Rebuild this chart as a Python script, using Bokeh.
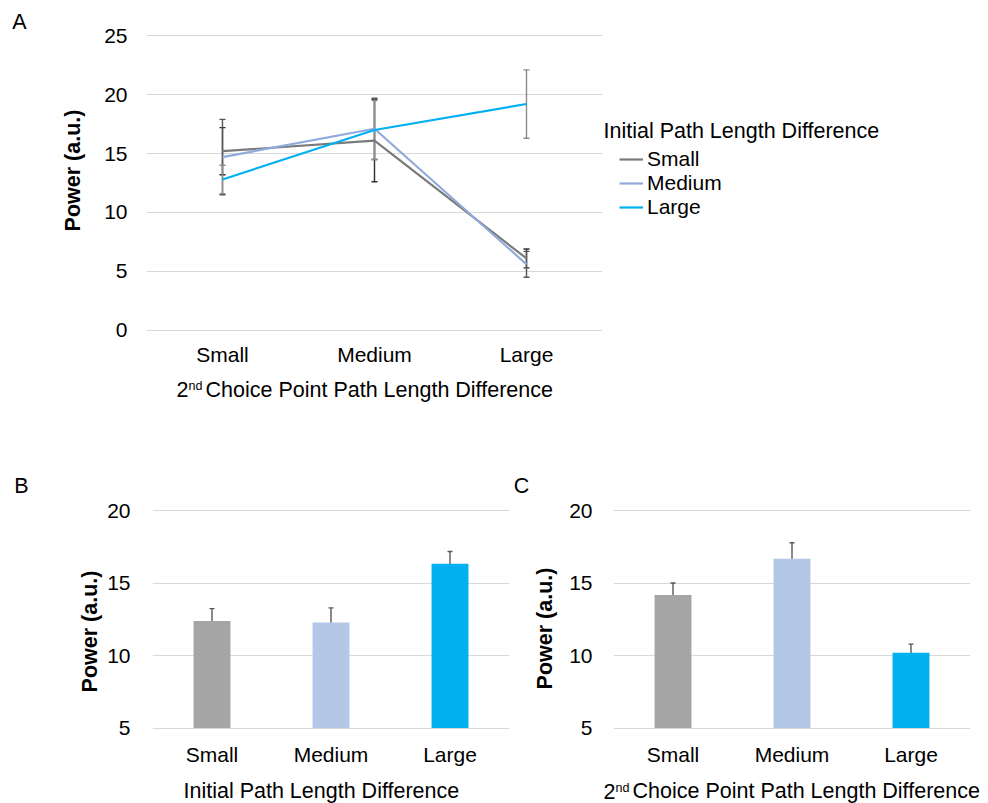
import math
from bokeh.plotting import figure
from bokeh.models import (ColumnDataSource, Whisker, TeeHead, FixedTicker, Label,
                          Legend, LegendItem, FactorRange, Range1d)
from bokeh.layouts import column, row
from bokeh.embed import file_html
from bokeh.resources import INLINE

FONT = "Liberation Sans"
TICK_FS = "21px"
TITLE_FS = "21.5px"

# ---------------- data ----------------
categories = ["Small", "Medium", "Large"]
series_names = ["Small", "Medium", "Large"]
# panel A: power by 2nd choice point difference, one line per initial difference
a_small = [15.2, 16.1, 6.1]
a_small_err = [2.0, 3.5, 0.8]
a_medium = [14.7, 17.1, 5.6]
a_medium_err = [3.2, 2.6, 1.1]
a_large = [12.8, 17.0, 19.2]
a_large_err = [1.2, 2.5, 2.9]
a_ticks = [0, 5, 10, 15, 20, 25]
# panel B: initial path length difference
b_vals = [12.4, 12.3, 16.35]
b_err = [0.85, 1.0, 0.85]
# panel C: 2nd choice point path length difference
c_vals = [14.2, 16.7, 10.2]
c_err = [0.82, 1.1, 0.6]
bc_ticks = [5, 10, 15, 20]

line_colors = ["#7a7a7a", "#8faadc", "#00b0f0"]
err_colors_a = ["#2e2e2e", "#555555", "#8c8c8c"]
bar_colors = ["#a5a5a5", "#b4c7e7", "#00b0f0"]


def no_align(p):
    if hasattr(p, "frame_align"):
        p.frame_align = False


def style(p, ticks, ystandoff, xstandoff):
    p.title.visible = False
    p.outline_line_color = None
    p.xgrid.visible = False
    p.ygrid.grid_line_color = "#d9d9d9"
    p.ygrid.grid_line_width = 1
    p.yaxis.ticker = FixedTicker(ticks=ticks)
    for ax in (p.xaxis, p.yaxis):
        ax.axis_line_color = None
        ax.major_tick_line_color = None
        ax.minor_tick_line_color = None
        ax.major_tick_out = 0
        ax.major_tick_in = 0
        ax.major_label_text_font = FONT
        ax.major_label_text_font_size = TICK_FS
        ax.major_label_text_color = "black"
    p.yaxis.major_label_standoff = ystandoff
    p.xaxis.major_label_standoff = xstandoff


def text_fig(w, h):
    # a plain canvas for texts that sit outside the plot frames; 1 data unit = 1 px
    p = figure(width=w, height=h, x_range=Range1d(0, w), y_range=Range1d(h, 0),
               min_border=0, x_axis_type=None, y_axis_type=None,
               output_backend="svg", toolbar_location=None)
    p.title.visible = False
    p.outline_line_color = None
    no_align(p)
    return p


def lab(p, x, y, text, size=TITLE_FS, align="left", angle=0.0, bold=False):
    p.add_layout(Label(x=x, y=y, text=text, text_font=FONT, text_font_size=size,
                       text_align=align, text_baseline="middle", angle=angle,
                       text_font_style="bold" if bold else "normal",
                       text_color="black"))


def x_title_2nd(p, x0, yc):
    lab(p, x0, yc, "2")
    lab(p, x0 + 12, yc - 3.5, "nd", size="12.5px")
    lab(p, x0 + 29, yc, "Choice Point Path Length Difference")


# ---------------- panel A ----------------
pA = figure(x_range=FactorRange(*categories), y_range=Range1d(-0.1, 25.1),
            frame_width=456, frame_height=297,
            min_border_left=46, min_border_right=1, min_border_top=34, min_border_bottom=41,
            output_backend="svg", toolbar_location=None)
style(pA, a_ticks, 19, 11)
no_align(pA)

vals_list = [a_small, a_medium, a_large]
errs_list = [a_small_err, a_medium_err, a_large_err]
for vals, errs, lc, ec in zip(vals_list, errs_list, line_colors, err_colors_a):
    src = ColumnDataSource(dict(x=categories, y=vals,
                                upper=[v + e for v, e in zip(vals, errs)],
                                lower=[v - e for v, e in zip(vals, errs)]))
    pA.line("x", "y", source=src, line_color=lc, line_width=2.2)
    w = Whisker(base="x", upper="upper", lower="lower", source=src, dimension="height",
                line_color=ec, line_width=1.4,
                upper_head=TeeHead(size=6, line_color=ec, line_width=1.4),
                lower_head=TeeHead(size=6, line_color=ec, line_width=1.4))
    pA.add_layout(w)

# left of A: panel letter and y title
pAL = text_fig(100, 372)
lab(pAL, 19, 21, "A", align="center")
lab(pAL, 72, 170, "Power (a.u.)", align="center", angle=math.pi / 2, bold=True)

# right of A: legend (key lines carry no data points)
pAR = text_fig(385, 372)
lab(pAR, 0, 130, "Initial Path Length Difference")
nan = float("nan")
keys = [pAR.line(x=[nan], y=[nan], line_color=c, line_width=2.2) for c in line_colors]
legend = Legend(items=[LegendItem(label=n, renderers=[r]) for n, r in zip(series_names, keys)],
                location=(16, 153), padding=0, spacing=0, margin=0,
                glyph_width=24, glyph_height=20, label_height=20, label_standoff=4,
                label_text_font=FONT, label_text_font_size="21px", label_text_color="black",
                label_text_line_height=1.0,
                border_line_color=None, background_fill_alpha=0)
pAR.add_layout(legend, "center")

# below A: x title of A and letters B, C
pAX = text_fig(988, 128)
x_title_2nd(pAX, 176, 17)
lab(pAX, 21, 113, "B", align="center")
lab(pAX, 521, 113, "C", align="center")


# ---------------- panels B and C ----------------
def bar_panel(vals, errs, left_border, right_border, ystandoff):
    p = figure(x_range=FactorRange(*categories), y_range=Range1d(4.9, 20.1),
               frame_width=357, frame_height=220,
               min_border_left=left_border, min_border_right=right_border,
               min_border_top=9, min_border_bottom=41,
               output_backend="svg", toolbar_location=None)
    style(p, bc_ticks, ystandoff, 13)
    no_align(p)
    src = ColumnDataSource(dict(x=categories, top=vals, color=bar_colors,
                                upper=[v + e for v, e in zip(vals, errs)],
                                lower=[v - e for v, e in zip(vals, errs)]))
    p.vbar(x="x", top="top", bottom=5, width=0.31, source=src,
           fill_color="color", line_color=None)
    w = Whisker(base="x", upper="upper", lower="lower", source=src, dimension="height",
                line_color="#595959", line_width=1.4,
                upper_head=TeeHead(size=5, line_color="#595959", line_width=1.4),
                lower_head=TeeHead(size=5, line_color="#595959", line_width=1.4))
    p.add_layout(w)
    return p


pBL = text_fig(103, 270)
lab(pBL, 89, 131, "Power (a.u.)", align="center", angle=math.pi / 2, bold=True)
pB = bar_panel(b_vals, b_err, 49, 1, 22)

pCL = text_fig(52, 270)
lab(pCL, 34, 128, "Power (a.u.)", align="center", angle=math.pi / 2, bold=True)
pC = bar_panel(c_vals, c_err, 51, 18, 21)

# below B and C: x titles
pBCX = text_fig(988, 33)
lab(pBCX, 183, 20.5, "Initial Path Length Difference")
x_title_2nd(pBCX, 603, 20.5)

layout = column(row(column(pAL), column(pA), column(pAR)), pAX,
                row(column(pBL), column(pB), column(pCL), column(pC)), pBCX)
open("out.html", "w").write(file_html(layout, INLINE))
